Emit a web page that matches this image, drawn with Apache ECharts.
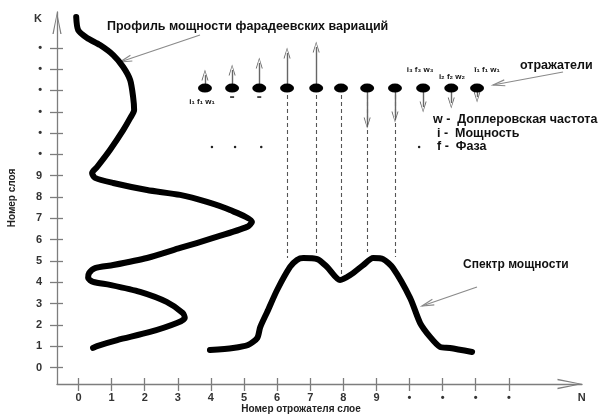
<!DOCTYPE html>
<html><head><meta charset="utf-8">
<script src="https://cdn.jsdelivr.net/npm/echarts@6/dist/echarts.min.js"></script>
<style>html,body{margin:0;padding:0;background:#fff}#c{width:609px;height:414px}</style>
</head><body><div id="c"></div>
<script>
// ---- data ----
const xTickValues = [0,1,2,3,4,5,6,7,8,9,10,11,12,13];
const xTickLabels = ['0','1','2','3','4','5','6','7','8','9','•','•','•','•'];
const yTickValues = [0,1,2,3,4,5,6,7,8,9,10,11,12,13,14,15];
const yTickLabels = ['0','1','2','3','4','5','6','7','8','9','•','•','•','•','•','•'];
const xAxisEndLabel = 'N';
const yAxisEndLabel = 'K';

// profile of Faraday variation power: [reflector value, layer]
const profileCurve = [
  [0.44,0.92],[0.56,1.01],[1.17,1.29],[2.16,1.67],[2.97,2.09],[3.21,2.33],[3.15,2.56],
  [2.66,3.08],[1.86,3.55],[0.95,3.88],[0.44,4.02],[0.29,4.20],[0.32,4.44],[0.50,4.67],
  [1.05,4.81],[2.07,5.14],[3.07,5.61],[4.07,6.08],[5.09,6.60],[5.24,6.83],[4.58,7.39],
  [3.88,7.77],[3.07,8.10],[2.07,8.33],[1.05,8.66],[0.50,8.90],[0.41,9.13],[0.56,9.41],
  [0.95,10.21],[1.35,11.14],[1.56,11.70],[1.68,12.08],[1.65,12.69],[1.56,13.49],
  [1.35,14.10],[1.05,14.66],[0.65,15.13],[0.26,15.46],[-0.01,15.83],[-0.07,16.45]
];
// power spectrum
const spectrumCurve = [
  [3.97,0.82],[4.67,0.92],[5.12,1.06],[5.40,1.39],[5.49,1.90],[5.70,2.61],[6.00,3.64],
  [6.39,4.72],[6.60,5.05],[6.79,5.14],[7.21,5.09],[7.51,4.72],[7.90,4.11],[8.21,4.34],
  [8.60,4.81],[8.90,5.14],[9.20,5.09],[9.50,4.67],[10.02,3.26],[10.32,2.09],[10.62,1.44],
  [10.92,0.97],[11.22,0.92],[11.89,0.73]
];
// reflectors
const reflectorX = [3.82,4.64,5.46,6.30,7.18,7.93,8.72,9.56,10.41,11.26,12.04];
const reflectorLevel = 13.11;
const dopplerTip = [13.72,13.96,14.29,14.76,15.04,null,11.47,11.75,12.22,12.41,12.69];
const dashedEnd = [null,null,null,5.14,5.38,4.25,5.42,5.19,null,null,null];
const phaseDots = [[4.03,10.35],[4.73,10.35],[5.52,10.35],[10.29,10.35]];
const smallMarks = [[4.64,12.69],[5.46,12.69]];

// ---- chart ----
const FONT = "'Liberation Sans', Arial, sans-serif";
const AX = '#7d7d7d';
const CHEV = 'path://M5,0 L10,24 L8.6,24 L5,4 L1.4,24 L0,24 Z';
const X_MIN = -0.65, X_MAX = 15.21, Y_MIN = -0.77, Y_MAX = 16.68;

const chart = echarts.init(document.getElementById('c'));

function arrowEls(x1, y1, x2, y2) {
  const dx = x2 - x1, dy = y2 - y1, L = Math.hypot(dx, dy);
  const ux = dx / L, uy = dy / L, nx = -uy, ny = ux;
  const hl = 12, hw = 3;
  return [
    {type:'line', shape:{x1, y1, x2, y2}, style:{stroke:'#8a8a8a', lineWidth:1.2}},
    {type:'polyline', shape:{points:[[x2 - hl*ux + hw*nx, y2 - hl*uy + hw*ny],[x2, y2],[x2 - hl*ux - hw*nx, y2 - hl*uy - hw*ny]]},
     style:{stroke:'#8a8a8a', lineWidth:1.2, fill:null}}
  ];
}
function txt(x, y, text, size, align) {
  return {type:'text', x, y, style:{text, font:'bold ' + size + 'px ' + FONT, fill:'#111',
    textAlign: align || 'left', textVerticalAlign:'middle'}};
}

const axisLbl = {fontFamily: FONT, fontWeight:'bold', fontSize:11, color:'#333'};

chart.setOption({
  animation:false,
  backgroundColor:'#fff',
  grid:{left:57, right:27, top:12, bottom:30, containLabel:false, outerBoundsMode:'none'},
  xAxis:[{
    type:'value', min:X_MIN, max:X_MAX, position:'bottom',
    axisLine:{show:true, onZero:false, lineStyle:{color:AX, width:1.3}, symbol:['none', CHEV], symbolSize:[11,25], symbolOffset:[0,-12]},
    axisTick:{show:true, customValues:xTickValues, length:7, lineStyle:{color:AX, width:1.3}},
    axisLabel:Object.assign({customValues:xTickValues.concat([15.2]), margin:8,
      formatter:v => v > 14 ? xAxisEndLabel : xTickLabels[Math.round(v)]}, axisLbl),
    splitLine:{show:false},
    name:'Номер отрожателя слое', nameLocation:'middle', nameGap:20, nameMoveOverlap:false,
    nameTextStyle:{fontFamily:FONT, fontWeight:'bold', fontSize:10, color:'#222', padding:[0,37,0,0]}
  },{
    type:'value', min:X_MIN, max:X_MAX, position:'bottom',
    axisLine:{show:false, onZero:false},
    axisTick:{show:true, inside:true, customValues:xTickValues, length:6, lineStyle:{color:AX, width:1.3}},
    axisLabel:{show:false}, splitLine:{show:false}
  }],
  yAxis:[{
    type:'value', min:Y_MIN, max:Y_MAX, position:'left',
    axisLine:{show:true, onZero:false, lineStyle:{color:AX, width:1.3}, symbol:['none', CHEV], symbolSize:[12,22], symbolOffset:[0,-11]},
    axisTick:{show:true, customValues:yTickValues, length:7, lineStyle:{color:AX, width:1.3}},
    axisLabel:Object.assign({customValues:yTickValues.concat([16.35]), margin:15,
      formatter:v => v > 15.5 ? yAxisEndLabel : yTickLabels[Math.round(v)]}, axisLbl),
    splitLine:{show:false},
    name:'Номер слоя', nameLocation:'middle', nameGap:40, nameRotate:90, nameMoveOverlap:false,
    nameTextStyle:{fontFamily:FONT, fontWeight:'bold', fontSize:10, color:'#222'}
  },{
    type:'value', min:Y_MIN, max:Y_MAX, position:'left',
    axisLine:{show:false, onZero:false},
    axisTick:{show:true, inside:true, customValues:yTickValues, length:6, lineStyle:{color:AX, width:1.3}},
    axisLabel:{show:false}, splitLine:{show:false}
  }],
  series:[
    { // axis overhang
      type:'line', data:[], clip:false, silent:true,
      markLine:{silent:true, symbol:'none', label:{show:false}, lineStyle:{color:AX, width:1.3, type:'solid'},
        data:[[{coord:[X_MIN, Y_MIN]},{coord:[X_MIN, -1.43]}],[{coord:[-1.07, Y_MIN]},{coord:[X_MIN, Y_MIN]}]]}
    },
    { // dashed projections
      type:'line', data:[], clip:false, silent:true,
      markLine:{silent:true, symbol:'none', label:{show:false}, lineStyle:{color:'#555', width:1.1, type:[4,3]},
        data:reflectorX.map((x,i) => dashedEnd[i] == null ? null : [{coord:[x, reflectorLevel]},{coord:[x, dashedEnd[i]]}]).filter(Boolean)}
    },
    { // doppler arrows
      type:'line', data:[], clip:false, silent:true,
      markLine:{silent:true, symbol:['none', CHEV], symbolSize:[7,11], label:{show:false},
        lineStyle:{color:'#666', width:1.4, type:'solid'},
        data:reflectorX.map((x,i) => dopplerTip[i] == null ? null : [{coord:[x, reflectorLevel]},{coord:[x, dopplerTip[i]]}]).filter(Boolean)}
    },
    {
      type:'line', data:profileCurve, showSymbol:false, smooth:0.25, silent:true, clip:false,
      lineStyle:{color:'#000', width:6, cap:'round', join:'round'}, z:4
    },
    {
      type:'line', data:spectrumCurve, showSymbol:false, smooth:0.25, silent:true, clip:false,
      lineStyle:{color:'#000', width:6, cap:'round', join:'round'}, z:4
    },
    {
      type:'scatter', data:reflectorX.map(x => [x, reflectorLevel]), symbol:'circle', symbolSize:[14,9],
      itemStyle:{color:'#000', opacity:1}, silent:true, z:6
    },
    {
      type:'scatter', data:phaseDots, symbol:'circle', symbolSize:2.5, itemStyle:{color:'#222', opacity:1}, silent:true
    },
    {
      type:'scatter', data:smallMarks, symbol:'rect', symbolSize:[4,1.6], itemStyle:{color:'#222', opacity:1}, silent:true
    }
  ],
  graphic:[].concat(
    arrowEls(200,35,120,62),
    arrowEls(563,72,493,85),
    arrowEls(477,287,422,306),
    [
      txt(107,27,'Профиль мощности фарадеевских вариаций',12.5),
      txt(520,66,'отражатели',12.5),
      txt(420,70,'i₃ f₃ w₃',8,'center'),
      txt(452,77,'i₂ f₂ w₂',8,'center'),
      txt(487,70,'ī₁ f₁ w₁',8,'center'),
      txt(202,102,'i₁ f₁ w₁',8,'center'),
      txt(433,120,'w -  Доплеровская частота',12.5),
      txt(437,134,'i -  Мощность',12.5),
      txt(437,147,'f -  Фаза',12.5),
      txt(463,265,'Спектр мощности',12)
    ]
  )
});
</script></body></html>
